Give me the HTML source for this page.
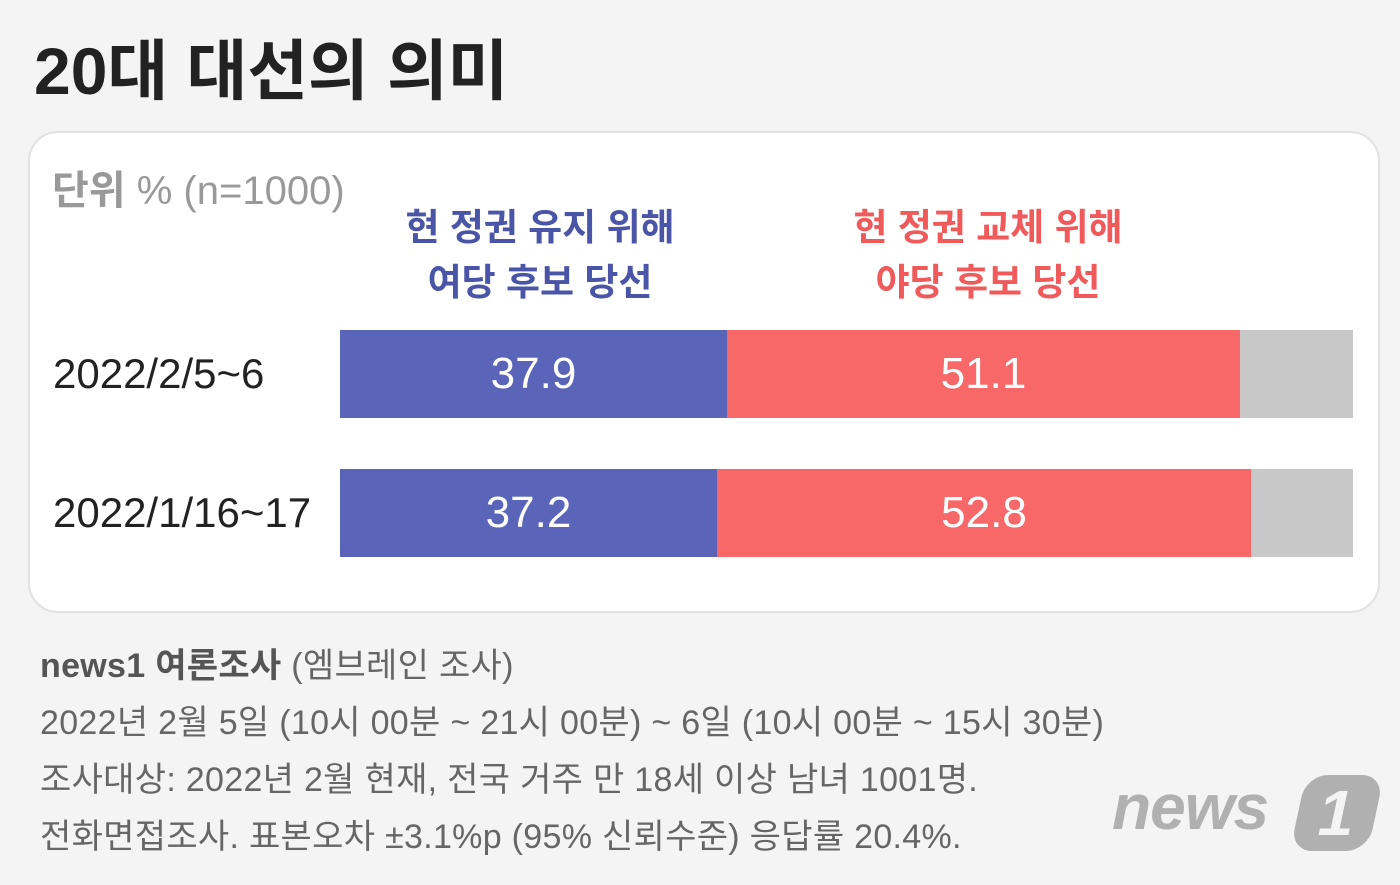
<!DOCTYPE html>
<html><head><meta charset="utf-8"><style>
body{margin:0;width:1400px;height:885px;background:#f4f4f4;font-family:"Liberation Sans","Noto Sans CJK KR",sans-serif;position:relative;overflow:hidden}
.a{position:absolute;white-space:nowrap}
.card{position:absolute;left:28px;top:131px;width:1348px;height:478px;background:#fff;border:2px solid #e2e2e2;border-radius:30px}
.bar{position:absolute;height:88px;color:#fff;font-size:44px;display:flex;align-items:center;justify-content:center}
.hd{font-size:37px;font-weight:bold;text-align:center;line-height:55px}
.ft{font-size:34px;color:#666;left:40px;letter-spacing:0.3px}
</style></head><body>
<div class="a" style="left:34px;top:18px;font-size:66px;font-weight:bold;color:#222">20대 대선의 의미</div>
<div class="card"></div>
<div class="a" style="left:52px;top:158px;font-size:40px;color:#999"><b>단위</b> % (n=1000)</div>
<div class="a hd" style="left:390px;top:200px;width:300px;color:#4a55a8">현 정권 유지 위해<br>여당 후보 당선</div>
<div class="a hd" style="left:838px;top:200px;width:300px;color:#f05a5a">현 정권 교체 위해<br>야당 후보 당선</div>
<div class="a" style="left:53px;top:350px;font-size:42px;color:#222">2022/2/5~6</div>
<div class="a" style="left:53px;top:489px;font-size:42px;color:#222">2022/1/16~17</div>
<div class="bar" style="left:340px;top:330px;width:387px;background:#5a64b8">37.9</div>
<div class="bar" style="left:727px;top:330px;width:513px;background:#f96868">51.1</div>
<div class="bar" style="left:1240px;top:330px;width:113px;background:#c8c8c8"></div>
<div class="bar" style="left:340px;top:469px;width:377px;background:#5a64b8">37.2</div>
<div class="bar" style="left:717px;top:469px;width:534px;background:#f96868">52.8</div>
<div class="bar" style="left:1251px;top:469px;width:102px;background:#c8c8c8"></div>
<div class="a ft" style="top:638px"><b style="color:#555">news1 여론조사</b> (엠브레인 조사)</div>
<div class="a ft" style="top:695px">2022년 2월 5일 (10시 00분 ~ 21시 00분) ~ 6일 (10시 00분 ~ 15시 30분)</div>
<div class="a ft" style="top:752px">조사대상: 2022년 2월 현재, 전국 거주 만 18세 이상 남녀 1001명.</div>
<div class="a ft" style="top:809px">전화면접조사. 표본오차 ±3.1%p (95% 신뢰수준) 응답률 20.4%.</div>
<div class="a" style="left:1112px;top:770px;font-size:64px;font-weight:bold;font-style:italic;color:#b0b0b0;letter-spacing:-1px">news</div>
<div class="a" style="left:1298px;top:775px;width:78px;height:76px;background:#b0b0b0;border-radius:22px;transform:skewX(-12deg);color:#f4f4f4;font-size:64px;font-weight:bold;text-align:center;line-height:76px">1</div>
</body></html>
